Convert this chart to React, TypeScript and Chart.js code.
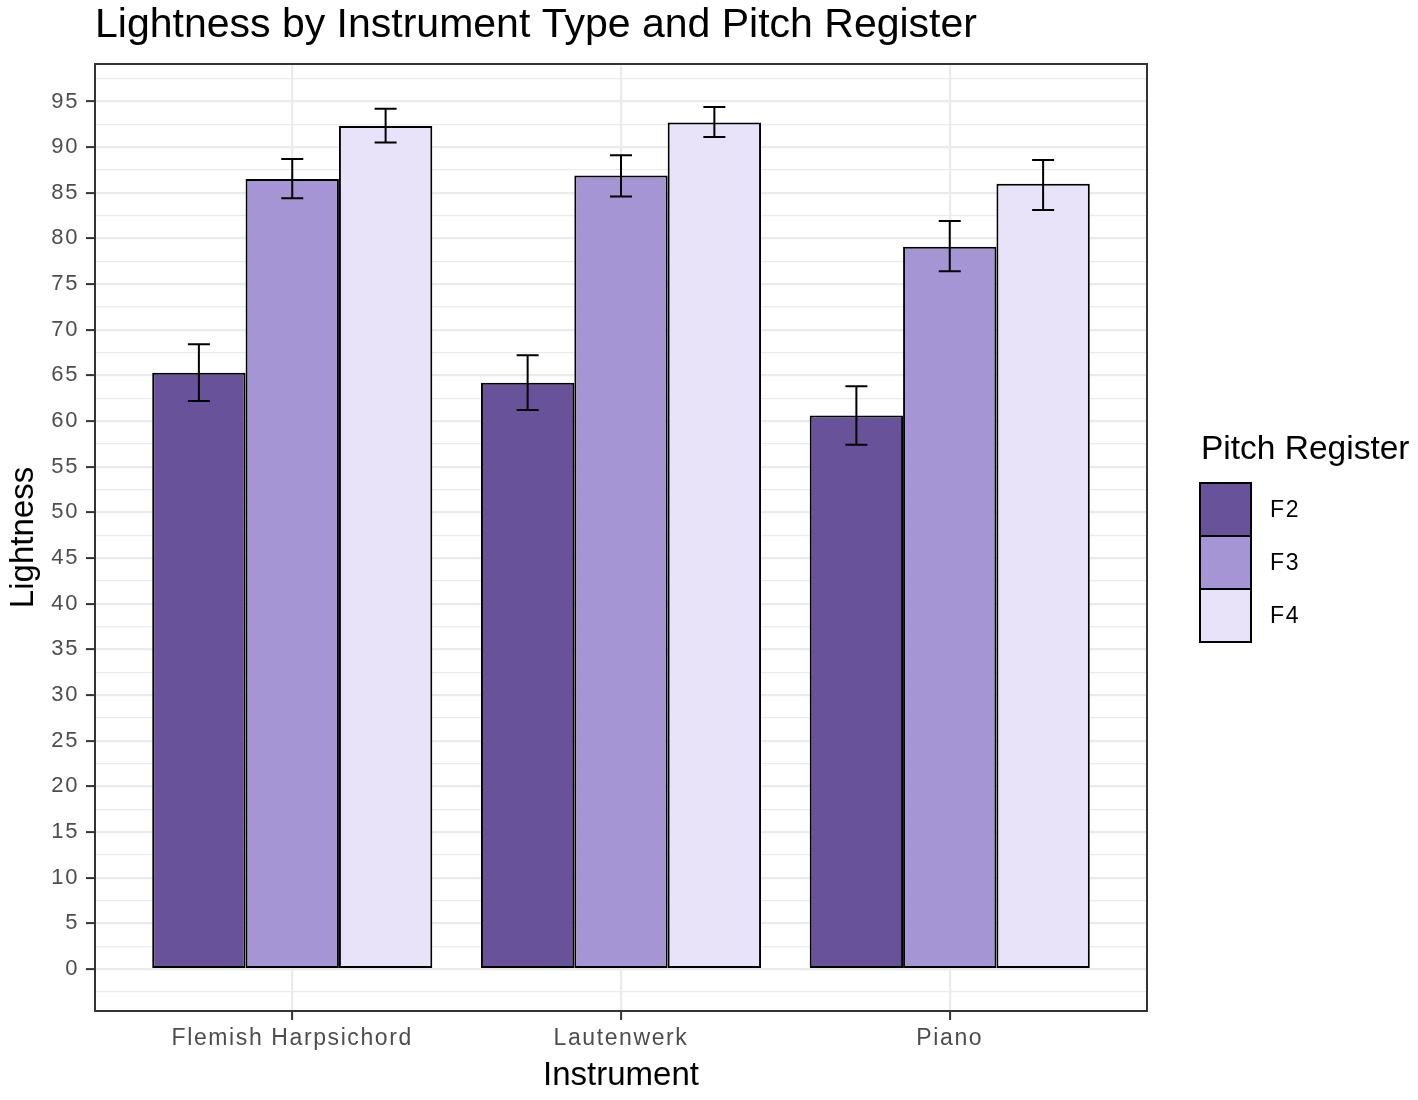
import React, { useEffect, useRef } from 'react';
import { Chart, registerables } from 'chart.js';

Chart.register(...registerables);

// ---- data ----
const categories = ['Flemish Harpsichord', 'Lautenwerk', 'Piano'];
const registers = ['F2', 'F3', 'F4'];
const f2Mean = [65.3, 64.2, 60.6];
const f3Mean = [86.5, 86.9, 79.1];
const f4Mean = [92.3, 92.7, 86.0];
const f2Low = [62.2, 61.2, 57.4];
const f2High = [68.4, 67.2, 63.8];
const f3Low = [84.4, 84.6, 76.4];
const f3High = [88.7, 89.1, 81.9];
const f4Low = [90.5, 91.1, 83.1];
const f4High = [94.2, 94.4, 88.6];
const registerColors = ['#68539a', '#a595d4', '#e8e3f8'];

const titleText = 'Lightness by Instrument Type and Pitch Register';
const xTitle = 'Instrument';
const yTitle = 'Lightness';
const legendTitle = 'Pitch Register';

const means = [f2Mean, f3Mean, f4Mean];
const lows = [f2Low, f3Low, f4Low];
const highs = [f2High, f3High, f4High];

const FONT = '"Liberation Sans", Arial, Helvetica, sans-serif';
const TICK_SPACING = '1.6px';

const isMajor = (v: number) => Math.abs(v % 5) < 1e-9;

const decorPlugin = {
  id: 'decor',
  beforeLayout(chart: any) {
    chart.ctx.letterSpacing = TICK_SPACING;
  },
  beforeDraw(chart: any) {
    const c = chart.ctx;
    c.save();
    c.fillStyle = '#ffffff';
    c.fillRect(0, 0, chart.width, chart.height);
    c.restore();
    c.letterSpacing = TICK_SPACING;
  },
  afterDatasetsDraw(chart: any) {
    const c = chart.ctx;
    const yScale = chart.scales.y;
    c.save();
    c.letterSpacing = '0px';
    c.strokeStyle = '#000000';
    c.lineWidth = 2;
    const half = 11;
    for (let i = 0; i < registers.length; i++) {
      const meta = chart.getDatasetMeta(i);
      meta.data.forEach((bar: any, j: number) => {
        const x = bar.x;
        const yl = yScale.getPixelForValue(lows[i][j]);
        const yh = yScale.getPixelForValue(highs[i][j]);
        c.beginPath();
        c.moveTo(x, yh);
        c.lineTo(x, yl);
        c.moveTo(x - half, yh);
        c.lineTo(x + half, yh);
        c.moveTo(x - half, yl);
        c.lineTo(x + half, yl);
        c.stroke();
      });
    }
    c.restore();
    c.letterSpacing = TICK_SPACING;
  },
  afterDraw(chart: any) {
    const c = chart.ctx;
    const a = chart.chartArea;
    c.save();
    c.letterSpacing = '0px';
    // panel border
    c.strokeStyle = '#333333';
    c.lineWidth = 2;
    c.strokeRect(a.left, a.top, a.right - a.left, a.bottom - a.top);

    // title
    c.fillStyle = '#000000';
    c.textAlign = 'left';
    c.textBaseline = 'alphabetic';
    c.font = `41px ${FONT}`;
    c.fillText(titleText, 95, 37);

    // x title
    c.font = `33px ${FONT}`;
    c.textAlign = 'center';
    c.fillText(xTitle, (a.left + a.right) / 2, 1085);

    // y title
    c.save();
    c.translate(33, (a.top + a.bottom) / 2);
    c.rotate(-Math.PI / 2);
    c.textAlign = 'center';
    c.fillText(yTitle, 0, 0);
    c.restore();

    // legend
    c.textAlign = 'left';
    c.font = `33.5px ${FONT}`;
    c.fillText(legendTitle, 1201, 459);
    const kx = 1200;
    const kw = 51;
    const kh = 53;
    const ky = 483;
    c.font = `23px ${FONT}`;
    c.letterSpacing = TICK_SPACING;
    c.textBaseline = 'middle';
    registers.forEach((r, i) => {
      const y0 = ky + i * kh;
      c.fillStyle = registerColors[i];
      c.fillRect(kx, y0, kw, kh);
      c.strokeStyle = '#000000';
      c.lineWidth = 2;
      c.strokeRect(kx, y0, kw, kh);
      c.fillStyle = '#000000';
      c.fillText(r, 1270, y0 + kh / 2 + 1);
    });
    c.restore();
    c.letterSpacing = TICK_SPACING;
  },
};

export default function App() {
  const canvasRef = useRef<HTMLCanvasElement | null>(null);

  useEffect(() => {
    if (!canvasRef.current) return;
    const chart = new Chart(canvasRef.current, {
      type: 'bar',
      data: {
        datasets: registers.map((r, i) => ({
          label: r,
          data: means[i].map((v, j) => ({ x: j + 1, y: v })),
          backgroundColor: registerColors[i],
          borderColor: '#000000',
          borderWidth: 2,
          borderSkipped: false,
          categoryPercentage: 0.852,
          barPercentage: 1.0,
        })),
      },
      options: {
        responsive: false,
        animation: false,
        devicePixelRatio: 1,
        layout: { padding: { top: 64, right: 271, left: 0, bottom: 0 } },
        plugins: {
          legend: { display: false },
          title: { display: false },
          tooltip: { enabled: false },
        },
        scales: {
          x: {
            type: 'linear',
            min: 0.4,
            max: 3.6,
            offset: false,
            border: { display: false },
            grid: {
              offset: false,
              color: '#ebebeb',
              lineWidth: 2.2,
              drawTicks: true,
              tickLength: 9,
              tickColor: '#333333',
              tickWidth: 2,
            },
            ticks: {
              stepSize: 1,
              includeBounds: false,
              font: { family: FONT, size: 23 },
              color: '#4d4d4d',
              padding: 5,
              maxRotation: 0,
              minRotation: 0,
              autoSkip: false,
              callback: (v: any) => categories[Math.round(Number(v)) - 1] ?? '',
            },
            afterFit(scale: any) {
              scale.height = 89;
            },
          },
          y: {
            type: 'linear',
            min: -4.6,
            max: 99.1,
            border: { display: false },
            grid: {
              color: '#ebebeb',
              lineWidth: (ctx: any) => (ctx.tick && isMajor(ctx.tick.value) ? 2.2 : 1.2),
              drawTicks: true,
              tickLength: 9,
              tickColor: (ctx: any) => (ctx.tick && isMajor(ctx.tick.value) ? '#333333' : 'rgba(0,0,0,0)'),
              tickWidth: 2,
            },
            ticks: {
              stepSize: 2.5,
              includeBounds: false,
              autoSkip: false,
              font: { family: FONT, size: 22 },
              color: '#4d4d4d',
              padding: 7,
              callback: (v: any) => (isMajor(Number(v)) ? String(v) : ''),
            },
            afterFit(scale: any) {
              scale.width = 95;
            },
          },
        },
      },
      plugins: [decorPlugin],
    } as any);
    return () => chart.destroy();
  }, []);

  return (
    <div style={{ position: 'absolute', left: 0, top: 0, width: 1418, height: 1100, background: '#ffffff' }}>
      <canvas ref={canvasRef} width={1418} height={1100} style={{ width: 1418, height: 1100, display: 'block' }} />
    </div>
  );
}
